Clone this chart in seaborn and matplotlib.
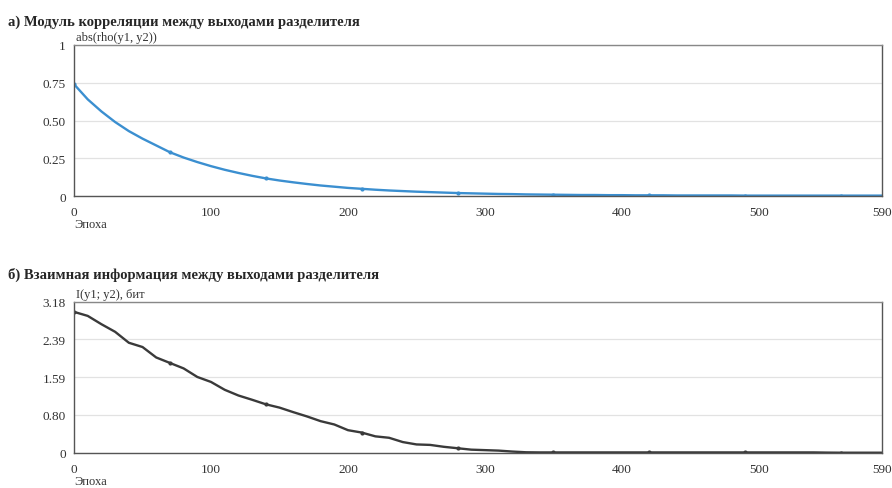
import numpy as np
import seaborn as sns
import matplotlib.pyplot as plt

# Epochs, sampled every 10
epochs = list(range(0, 600, 10))

# |rho(y1, y2)| per epoch
rho_abs = [0.74, 0.64, 0.56, 0.49, 0.43, 0.38, 0.335, 0.29, 0.255, 0.225,
           0.198, 0.174, 0.153, 0.134, 0.117, 0.103, 0.091, 0.080, 0.070, 0.062,
           0.054, 0.048, 0.042, 0.037, 0.033, 0.029, 0.026, 0.023, 0.020, 0.018,
           0.016, 0.014, 0.013, 0.011, 0.010, 0.009, 0.008, 0.007, 0.007, 0.006,
           0.006, 0.005, 0.005, 0.005, 0.004, 0.004, 0.004, 0.004, 0.004, 0.003,
           0.003, 0.003, 0.003, 0.003, 0.003, 0.003, 0.003, 0.003, 0.003, 0.003]

# mutual information I(y1; y2), bits
mutual_info = [2.97, 2.885, 2.71, 2.55, 2.32, 2.23, 2.01, 1.895, 1.78, 1.60,
               1.495, 1.33, 1.21, 1.12, 1.025, 0.955, 0.86, 0.77, 0.67, 0.60,
               0.48, 0.43, 0.35, 0.32, 0.23, 0.18, 0.17, 0.13, 0.10, 0.07,
               0.06, 0.05, 0.03, 0.015, 0.012, 0.012, 0.012, 0.012, 0.012, 0.012,
               0.012, 0.012, 0.012, 0.012, 0.012, 0.012, 0.012, 0.012, 0.012, 0.012,
               0.012, 0.012, 0.012, 0.012, 0.012, 0.008, 0.006, 0.006, 0.006, 0.006]

x_ticks = [0, 100, 200, 300, 400, 500, 590]
rho_ticks = [0, 0.25, 0.5, 0.75, 1]
rho_tick_labels = ["0", "0.25", "0.50", "0.75", "1"]
mi_ticks = [0, 0.80, 1.59, 2.39, 3.18]
mi_tick_labels = ["0", "0.80", "1.59", "2.39", "3.18"]

sns.set_style("white")
plt.rcParams['font.family'] = ['Liberation Serif', 'DejaVu Serif']

fig = plt.figure(figsize=(8.92, 4.89), dpi=100)
ax1 = fig.add_axes([0.083, 0.597, 0.906, 0.309])
ax2 = fig.add_axes([0.083, 0.0716, 0.906, 0.309])


def style_axis(ax, yticks, ylabels, ylim, ylab):
    ax.set_xlim(0, 590)
    ax.set_ylim(*ylim)
    ax.set_xticks(x_ticks)
    ax.set_yticks(yticks)
    ax.set_yticklabels(ylabels)
    ax.grid(axis='y', color='#e2e2e2', linewidth=0.9)
    ax.grid(axis='x', visible=False)
    for s in ax.spines.values():
        s.set_color('#555555')
        s.set_linewidth(1.0)
    ax.spines['top'].set_color('#888888')
    ax.tick_params(axis='x', direction='out', length=3, width=0.8, color='#555555',
                   labelsize=9.5, labelcolor='#333333', pad=4)
    ax.tick_params(axis='y', length=0, labelsize=9.5, labelcolor='#333333', pad=6)
    ax.set_xlabel('')
    ax.set_ylabel('')
    ax.text(0.002, 1.015, ylab, transform=ax.transAxes, ha='left', va='bottom',
            fontsize=9, color='#333333')
    ax.text(0.0, -0.185, 'Эпоха', transform=ax.transAxes, ha='left', va='center',
            fontsize=9, color='#333333')


sns.lineplot(x=epochs, y=rho_abs, ax=ax1, color='#3b8fd0', linewidth=1.7,
             marker='o', markersize=3, markevery=7, markeredgewidth=0)
style_axis(ax1, rho_ticks, rho_tick_labels, (0, 1), 'abs(rho(y1, y2))')

sns.lineplot(x=epochs, y=mutual_info, ax=ax2, color='#3a3a3a', linewidth=1.7,
             marker='o', markersize=3, markevery=7, markeredgewidth=0)
style_axis(ax2, mi_ticks, mi_tick_labels, (0, 3.18), 'I(y1; y2), бит')

fig.text(0.009, 0.955, 'а) Модуль корреляции между выходами разделителя',
         fontsize=10.5, fontweight='bold', ha='left', va='center')
fig.text(0.009, 0.438, 'б) Взаимная информация между выходами разделителя',
         fontsize=10.5, fontweight='bold', ha='left', va='center')

fig.savefig('out.png', dpi=100)
